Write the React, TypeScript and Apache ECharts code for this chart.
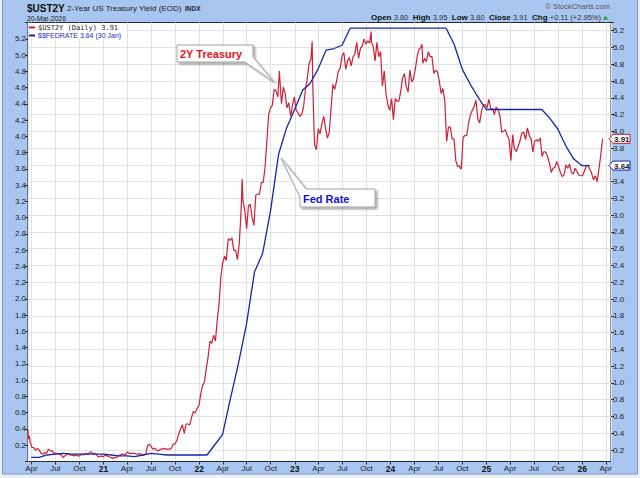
import React, { useEffect, useRef } from "react";
import * as echarts from "echarts";

// ---------- data ----------
const X_MIN = "2020-03-19";
const X_MAX = "2026-04-21";
const MONTH_LABELS = ["Jan", "Feb", "Mar", "Apr", "May", "Jun", "Jul", "Aug", "Sep", "Oct", "Nov", "Dec"];

const LEFT_MIN = 0;
const LEFT_MAX = 5.4;
const RIGHT_MIN = 0.2;
const RIGHT_MAX = 5.3;
const TICK_STEP = 0.2;

const UST2Y: [string, number][] = [
  ["2020-03-19", 0.44], ["2020-03-20", 0.33], ["2020-03-24", 0.37], ["2020-03-27", 0.30], ["2020-04-03", 0.23], ["2020-04-09", 0.23], ["2020-04-17", 0.20], ["2020-04-24", 0.22],
  ["2020-05-01", 0.20], ["2020-05-08", 0.16], ["2020-05-15", 0.15], ["2020-05-22", 0.17], ["2020-05-29", 0.16], ["2020-06-05", 0.21], ["2020-06-12", 0.19], ["2020-06-19", 0.19],
  ["2020-06-26", 0.16], ["2020-07-02", 0.16], ["2020-07-10", 0.16], ["2020-07-17", 0.15], ["2020-07-24", 0.14], ["2020-07-31", 0.11], ["2020-08-07", 0.13], ["2020-08-14", 0.15],
  ["2020-08-21", 0.15], ["2020-08-28", 0.14], ["2020-09-04", 0.14], ["2020-09-11", 0.13], ["2020-09-18", 0.14], ["2020-09-25", 0.13], ["2020-10-02", 0.13], ["2020-10-09", 0.15],
  ["2020-10-16", 0.14], ["2020-10-23", 0.16], ["2020-10-30", 0.15], ["2020-11-06", 0.16], ["2020-11-13", 0.18], ["2020-11-20", 0.16], ["2020-11-27", 0.16], ["2020-12-04", 0.15],
  ["2020-12-11", 0.12], ["2020-12-18", 0.12], ["2020-12-24", 0.13], ["2020-12-31", 0.12],
  ["2021-01-08", 0.14], ["2021-01-15", 0.13], ["2021-01-22", 0.12], ["2021-01-29", 0.11], ["2021-02-05", 0.10], ["2021-02-12", 0.11], ["2021-02-19", 0.11], ["2021-02-26", 0.13],
  ["2021-03-05", 0.14], ["2021-03-12", 0.15], ["2021-03-19", 0.15], ["2021-03-26", 0.14], ["2021-04-02", 0.18], ["2021-04-09", 0.16], ["2021-04-16", 0.16], ["2021-04-23", 0.16],
  ["2021-04-30", 0.16], ["2021-05-07", 0.15], ["2021-05-14", 0.15], ["2021-05-21", 0.16], ["2021-05-28", 0.14], ["2021-06-04", 0.14], ["2021-06-11", 0.15], ["2021-06-18", 0.25],
  ["2021-06-25", 0.27], ["2021-07-02", 0.24], ["2021-07-09", 0.21], ["2021-07-16", 0.22], ["2021-07-23", 0.20], ["2021-07-30", 0.19], ["2021-08-06", 0.21], ["2021-08-13", 0.21],
  ["2021-08-20", 0.22], ["2021-08-27", 0.21], ["2021-09-03", 0.21], ["2021-09-10", 0.21], ["2021-09-17", 0.22], ["2021-09-24", 0.27], ["2021-10-01", 0.27], ["2021-10-08", 0.32],
  ["2021-10-15", 0.39], ["2021-10-22", 0.45], ["2021-10-29", 0.50], ["2021-11-05", 0.40], ["2021-11-12", 0.51], ["2021-11-19", 0.51], ["2021-11-26", 0.50], ["2021-12-03", 0.59],
  ["2021-12-10", 0.66], ["2021-12-17", 0.64], ["2021-12-23", 0.69], ["2021-12-31", 0.73],
  ["2022-01-07", 0.87], ["2022-01-14", 0.97], ["2022-01-21", 1.01], ["2022-01-28", 1.17], ["2022-02-04", 1.31], ["2022-02-11", 1.50], ["2022-02-18", 1.47], ["2022-02-25", 1.57],
  ["2022-03-04", 1.50], ["2022-03-11", 1.75], ["2022-03-18", 1.95], ["2022-03-25", 2.27], ["2022-04-01", 2.44], ["2022-04-08", 2.51], ["2022-04-14", 2.46], ["2022-04-22", 2.72],
  ["2022-04-29", 2.70], ["2022-05-06", 2.73], ["2022-05-13", 2.58], ["2022-05-20", 2.58], ["2022-05-27", 2.47], ["2022-06-03", 2.66], ["2022-06-10", 3.06], ["2022-06-14", 3.43],
  ["2022-06-17", 3.17], ["2022-06-24", 3.06], ["2022-07-01", 2.84], ["2022-07-08", 3.11], ["2022-07-15", 3.13], ["2022-07-22", 2.97], ["2022-07-29", 2.88], ["2022-08-05", 3.24],
  ["2022-08-12", 3.25], ["2022-08-19", 3.25], ["2022-08-26", 3.39], ["2022-09-02", 3.39], ["2022-09-09", 3.56], ["2022-09-16", 3.87], ["2022-09-23", 4.20], ["2022-09-30", 4.28],
  ["2022-10-07", 4.31], ["2022-10-14", 4.50], ["2022-10-21", 4.48], ["2022-10-28", 4.41], ["2022-11-03", 4.72], ["2022-11-04", 4.66], ["2022-11-11", 4.33], ["2022-11-18", 4.53],
  ["2022-11-25", 4.45], ["2022-12-02", 4.28], ["2022-12-09", 4.34], ["2022-12-16", 4.18], ["2022-12-23", 4.31], ["2022-12-30", 4.41],
  ["2023-01-06", 4.25], ["2023-01-13", 4.22], ["2023-01-20", 4.18], ["2023-01-27", 4.20], ["2023-02-03", 4.29], ["2023-02-10", 4.49], ["2023-02-17", 4.62], ["2023-02-24", 4.81],
  ["2023-03-03", 4.86], ["2023-03-08", 5.07], ["2023-03-10", 4.59], ["2023-03-17", 3.84], ["2023-03-24", 3.78], ["2023-03-31", 4.03], ["2023-04-07", 3.97], ["2023-04-14", 4.09],
  ["2023-04-21", 4.18], ["2023-04-28", 4.04], ["2023-05-05", 3.92], ["2023-05-12", 3.98], ["2023-05-19", 4.27], ["2023-05-26", 4.56], ["2023-06-02", 4.50], ["2023-06-09", 4.60],
  ["2023-06-16", 4.72], ["2023-06-23", 4.75], ["2023-06-30", 4.90], ["2023-07-07", 4.94], ["2023-07-14", 4.74], ["2023-07-21", 4.84], ["2023-07-28", 4.88], ["2023-08-04", 4.78],
  ["2023-08-11", 4.89], ["2023-08-18", 4.92], ["2023-08-25", 5.06], ["2023-09-01", 4.87], ["2023-09-08", 4.99], ["2023-09-15", 5.02], ["2023-09-22", 5.10], ["2023-09-29", 5.04],
  ["2023-10-06", 5.08], ["2023-10-13", 5.05], ["2023-10-19", 5.19], ["2023-10-20", 5.07], ["2023-10-27", 5.01], ["2023-11-03", 4.84], ["2023-11-10", 5.06], ["2023-11-17", 4.89],
  ["2023-11-24", 4.95], ["2023-12-01", 4.54], ["2023-12-08", 4.72], ["2023-12-15", 4.44], ["2023-12-22", 4.31], ["2023-12-29", 4.25],
  ["2024-01-05", 4.39], ["2024-01-12", 4.14], ["2024-01-19", 4.39], ["2024-01-26", 4.36], ["2024-02-02", 4.36], ["2024-02-09", 4.48], ["2024-02-16", 4.64], ["2024-02-23", 4.69],
  ["2024-03-01", 4.53], ["2024-03-08", 4.47], ["2024-03-15", 4.73], ["2024-03-22", 4.59], ["2024-03-28", 4.62], ["2024-04-05", 4.75], ["2024-04-12", 4.90], ["2024-04-19", 4.98],
  ["2024-04-26", 5.00], ["2024-04-30", 5.04], ["2024-05-03", 4.81], ["2024-05-10", 4.87], ["2024-05-17", 4.83], ["2024-05-24", 4.95], ["2024-05-31", 4.89], ["2024-06-07", 4.89],
  ["2024-06-14", 4.69], ["2024-06-21", 4.73], ["2024-06-28", 4.71], ["2024-07-05", 4.60], ["2024-07-12", 4.45], ["2024-07-19", 4.51], ["2024-07-26", 4.36], ["2024-08-02", 3.88],
  ["2024-08-09", 4.05], ["2024-08-16", 4.05], ["2024-08-23", 3.91], ["2024-08-30", 3.91], ["2024-09-06", 3.65], ["2024-09-13", 3.58], ["2024-09-20", 3.59], ["2024-09-24", 3.55],
  ["2024-09-27", 3.56], ["2024-10-04", 3.93], ["2024-10-11", 3.95], ["2024-10-18", 3.95], ["2024-10-25", 4.11], ["2024-11-01", 4.20], ["2024-11-08", 4.25], ["2024-11-15", 4.30],
  ["2024-11-22", 4.37], ["2024-11-29", 4.15], ["2024-12-06", 4.10], ["2024-12-13", 4.24], ["2024-12-20", 4.31], ["2024-12-27", 4.32],
  ["2025-01-03", 4.28], ["2025-01-10", 4.38], ["2025-01-17", 4.27], ["2025-01-24", 4.27], ["2025-01-31", 4.20], ["2025-02-07", 4.29], ["2025-02-14", 4.26], ["2025-02-21", 4.19],
  ["2025-02-28", 3.99], ["2025-03-07", 4.00], ["2025-03-14", 4.02], ["2025-03-21", 3.95], ["2025-03-28", 3.91], ["2025-04-04", 3.65], ["2025-04-11", 3.96], ["2025-04-17", 3.80],
  ["2025-04-25", 3.76], ["2025-05-02", 3.82], ["2025-05-09", 3.89], ["2025-05-16", 3.98], ["2025-05-23", 3.99], ["2025-05-30", 3.90], ["2025-06-06", 4.04], ["2025-06-13", 3.95],
  ["2025-06-20", 3.91], ["2025-06-27", 3.75], ["2025-07-03", 3.88], ["2025-07-11", 3.90], ["2025-07-18", 3.88], ["2025-07-25", 3.92], ["2025-08-01", 3.70], ["2025-08-08", 3.76],
  ["2025-08-15", 3.75], ["2025-08-22", 3.70], ["2025-08-29", 3.62], ["2025-09-05", 3.51], ["2025-09-12", 3.56], ["2025-09-19", 3.57], ["2025-09-26", 3.64], ["2025-10-03", 3.58],
  ["2025-10-10", 3.51], ["2025-10-17", 3.46], ["2025-10-24", 3.48], ["2025-10-31", 3.60], ["2025-11-07", 3.56], ["2025-11-14", 3.61], ["2025-11-21", 3.51], ["2025-11-28", 3.49],
  ["2025-12-05", 3.56], ["2025-12-12", 3.52], ["2025-12-19", 3.48], ["2025-12-26", 3.47],
  ["2026-01-02", 3.47], ["2026-01-09", 3.52], ["2026-01-16", 3.58], ["2026-01-23", 3.60], ["2026-01-30", 3.55], ["2026-02-06", 3.50], ["2026-02-13", 3.42], ["2026-02-20", 3.47],
  ["2026-02-27", 3.40], ["2026-03-06", 3.55], ["2026-03-13", 3.72], ["2026-03-20", 3.91],
];

const FEDRATE: [string, number][] = [
  ["2020-03-31", 0.05], ["2020-04-30", 0.05], ["2020-05-31", 0.08], ["2020-06-30", 0.09], ["2020-07-31", 0.10], ["2020-08-31", 0.09], ["2020-09-30", 0.09], ["2020-10-31", 0.09],
  ["2020-11-30", 0.09], ["2020-12-31", 0.09], ["2021-01-31", 0.08], ["2021-02-28", 0.07], ["2021-03-31", 0.07], ["2021-04-30", 0.06], ["2021-05-31", 0.08], ["2021-06-30", 0.10],
  ["2021-07-31", 0.09], ["2021-08-31", 0.08], ["2021-09-30", 0.08], ["2021-10-31", 0.08], ["2021-11-30", 0.08], ["2021-12-31", 0.08], ["2022-01-31", 0.08], ["2022-02-28", 0.20],
  ["2022-03-31", 0.33], ["2022-04-30", 0.77], ["2022-05-31", 1.21], ["2022-06-30", 1.68], ["2022-07-31", 2.33], ["2022-08-31", 2.56], ["2022-09-30", 3.08], ["2022-10-31", 3.78],
  ["2022-11-30", 4.10], ["2022-12-31", 4.33], ["2023-01-31", 4.57], ["2023-02-28", 4.65], ["2023-03-31", 4.83], ["2023-04-30", 5.06], ["2023-05-31", 5.08], ["2023-06-30", 5.12],
  ["2023-07-31", 5.33], ["2023-08-31", 5.33], ["2023-09-30", 5.33], ["2023-10-31", 5.33], ["2023-11-30", 5.33], ["2023-12-31", 5.33], ["2024-01-31", 5.33], ["2024-02-29", 5.33],
  ["2024-03-31", 5.33], ["2024-04-30", 5.33], ["2024-05-31", 5.33], ["2024-06-30", 5.33], ["2024-07-31", 5.33], ["2024-08-31", 5.13], ["2024-09-30", 4.83], ["2024-10-31", 4.64],
  ["2024-11-30", 4.48], ["2024-12-31", 4.33], ["2025-01-31", 4.33], ["2025-02-28", 4.33], ["2025-03-31", 4.33], ["2025-04-30", 4.33], ["2025-05-31", 4.33], ["2025-06-30", 4.33],
  ["2025-07-31", 4.33], ["2025-08-31", 4.22], ["2025-09-30", 4.09], ["2025-10-31", 3.88], ["2025-11-30", 3.72], ["2025-12-31", 3.64], ["2026-01-30", 3.64],
];

const TITLE_SYMBOL = "$UST2Y";
const TITLE_NAME = "2-Year US Treasury Yield (EOD)";
const TITLE_EXCH = "INDX";
const TITLE_DATE = "20-Mar-2026";
const COPYRIGHT = "© StockCharts.com";
const OHLC_ITEMS: [string, string][] = [
  ["Open", "3.80"], ["High", "3.95"], ["Low", "3.80"], ["Close", "3.91"], ["Chg", "+0.11 (+2.95%)"],
];
const LEGEND_UST = "$UST2Y (Daily) 3.91";
const LEGEND_FED = "$$FEDRATE 3.64 (30 Jan)";
const NOTE_UST = "2Y Treasury";
const NOTE_FED = "Fed Rate";

// ---------- styles ----------
const FONT = '"Liberation Sans", Arial, Helvetica, sans-serif';
const RED = "#cf1f36";
const BLUE = "#1428a6";
const FRAME = "#a9c6f0";
const GRID_LINE = "#e2e2e2";
const AXIS_DARK = "#2a2a2a";
const QUARTER = 95 * 24 * 3600 * 1000;

export default function App() {
  const ref = useRef<HTMLDivElement>(null);

  useEffect(() => {
    if (!ref.current) return;
    const chart = echarts.init(ref.current, undefined, { renderer: "svg" });

    const lastU = UST2Y[UST2Y.length - 1][1];
    const lastF = FEDRATE[FEDRATE.length - 1][1];

    const xFmt = (value: number) => {
      const d = new Date(value);
      if (d.getDate() !== 1) return "";
      const m = d.getMonth();
      if (m === 0) return "{y|" + String(d.getFullYear()).slice(2) + "}";
      return MONTH_LABELS[m];
    };
    const yFmtLeft = (v: number) => (v < 0.1 || v > 5.25 ? "" : v.toFixed(1));
    // right-axis labels hidden where the value tags sit on top of them
    const yFmtRight = (v: number) => {
      if (v < 0.1 || v > 5.25) return "";
      if (Math.abs(v - lastF) < 0.08) return "";
      return v.toFixed(1);
    };

    const option: any = {
      animation: false,
      backgroundColor: FRAME,
      textStyle: { fontFamily: FONT },
      grid: [
        { left: 28, top: 22.5, width: 583, height: 439, show: true, backgroundColor: "#ffffff", borderColor: AXIS_DARK, borderWidth: 1 },
        { left: 28, top: 22.3, width: 583, height: 427.7, show: false },
      ],
      xAxis: [
        {
          type: "time", gridIndex: 0, min: X_MIN, max: X_MAX, minInterval: QUARTER, maxInterval: QUARTER,
          axisLine: { show: false },
          axisTick: { show: true, length: 3, lineStyle: { color: AXIS_DARK } },
          axisLabel: {
            margin: 3, fontSize: 8, color: "#222", fontFamily: FONT, formatter: xFmt,
            showMinLabel: false, showMaxLabel: false, hideOverlap: false,
            rich: { y: { fontWeight: "bold", fontSize: 8.5, color: "#111", fontFamily: FONT } },
          },
          splitLine: { show: true, lineStyle: { color: GRID_LINE, width: 1 } },
        },
        { type: "time", gridIndex: 1, min: X_MIN, max: X_MAX, show: false },
      ],
      yAxis: [
        {
          type: "value", gridIndex: 0, position: "left", min: LEFT_MIN, max: LEFT_MAX, interval: TICK_STEP,
          axisLine: { show: false },
          axisTick: { show: true, length: 3, lineStyle: { color: AXIS_DARK } },
          axisLabel: { margin: 2, fontSize: 8, color: "#222", fontFamily: FONT, formatter: yFmtLeft },
          splitLine: { show: false },
        },
        {
          type: "value", gridIndex: 1, position: "right", min: RIGHT_MIN, max: RIGHT_MAX, interval: TICK_STEP,
          axisLine: { show: false },
          axisTick: { show: true, length: 3, lineStyle: { color: AXIS_DARK } },
          axisLabel: { margin: 2, fontSize: 8, color: "#222", fontFamily: FONT, formatter: yFmtRight },
          splitLine: { show: true, showMaxLine: false, lineStyle: { color: GRID_LINE, width: 1 } },
        },
      ],
      series: [
        {
          name: "UST2Y", type: "line", xAxisIndex: 1, yAxisIndex: 1, data: UST2Y,
          symbol: "none", clip: false, z: 3, lineStyle: { color: RED, width: 1.2 },
        },
        {
          name: "FEDRATE", type: "line", xAxisIndex: 0, yAxisIndex: 0, data: FEDRATE,
          symbol: "none", clip: false, z: 4, lineStyle: { color: BLUE, width: 1.3 },
        },
      ],
    };
    chart.setOption(option);

    const yU = chart.convertToPixel({ yAxisIndex: 1 } as any, lastU) as number;
    const yF = chart.convertToPixel({ yAxisIndex: 0 } as any, lastF) as number;

    const tag = (yc: number, val: number, color: string) => ({
      type: "group", z: 100, children: [
        { type: "polygon", z: 100, shape: { points: [[609, yc], [613, yc - 4.5], [630, yc - 4.5], [630, yc + 4.5], [613, yc + 4.5]] }, style: { fill: "#fff", stroke: color, lineWidth: 1 } },
        { type: "text", z: 101, x: 614, y: yc + 0.5, style: { text: val.toFixed(2), font: "bold 8px " + FONT, fill: "#111", verticalAlign: "middle" } },
      ],
    });

    const ohlcRich = OHLC_ITEMS.map(([k, v]) => "{b|" + k + "} {v|" + v + "}").join("  ");
    const balloonStyle = { fill: "#ffffff", stroke: "#a0a0a0", lineWidth: 1, shadowColor: "rgba(0,0,0,0.35)", shadowBlur: 2, shadowOffsetX: 2, shadowOffsetY: 2 };

    const graphic: any[] = [
      // outer frame
      { type: "rect", z: 1, shape: { x: 0, y: 474, width: 640, height: 4 }, style: { fill: "#efefef" } },
      { type: "rect", z: 1, shape: { x: 0, y: 0, width: 2, height: 478 }, style: { fill: "#efefef" } },
      { type: "rect", z: 1, shape: { x: 637.5, y: 0, width: 3, height: 478 }, style: { fill: "#efefef" } },
      { type: "rect", z: 1, shape: { x: 2.5, y: -1, width: 635, height: 475 }, style: { fill: "none", stroke: "#7a98d0", lineWidth: 1 } },
      // header
      { type: "text", x: 27, y: 8, style: { text: TITLE_SYMBOL, font: "bold 10px " + FONT, fill: "#111", verticalAlign: "middle" } },
      { type: "text", x: 67, y: 8.5, style: { text: TITLE_NAME, font: "8px " + FONT, fill: "#222", verticalAlign: "middle" } },
      { type: "text", x: 185, y: 8.8, style: { text: TITLE_EXCH, font: "bold 6.5px " + FONT, fill: "#222", verticalAlign: "middle" } },
      { type: "text", x: 27, y: 18, style: { text: TITLE_DATE, font: "6.8px " + FONT, fill: "#222", verticalAlign: "middle" } },
      { type: "text", x: 610, y: 6.5, style: { text: COPYRIGHT, font: "7.5px " + FONT, fill: "#555", align: "right", verticalAlign: "middle" } },
      {
        type: "text", x: 601, y: 17.5,
        style: {
          text: ohlcRich, align: "right", verticalAlign: "middle", font: "8px " + FONT,
          rich: { b: { font: "bold 8px " + FONT, fill: "#111" }, v: { font: "7.5px " + FONT, fill: "#333" } },
        },
      },
      { type: "polygon", shape: { points: [[603, 19.5], [608, 19.5], [605.5, 15.5]] }, style: { fill: "#1f9a2a" } },
      // legend
      { type: "rect", z: 50, shape: { x: 29, y: 23.5, width: 96, height: 15 }, style: { fill: "#ffffff" } },
      { type: "line", z: 51, shape: { x1: 29, y1: 27.5, x2: 35, y2: 27.5 }, style: { stroke: RED, lineWidth: 2 } },
      { type: "text", z: 51, x: 38, y: 27.8, style: { text: LEGEND_UST, font: '7px "DejaVu Sans Mono", monospace', fill: "#222", verticalAlign: "middle" } },
      { type: "line", z: 51, shape: { x1: 29, y1: 35.5, x2: 35, y2: 35.5 }, style: { stroke: BLUE, lineWidth: 2 } },
      { type: "text", z: 51, x: 38, y: 35.8, style: { text: LEGEND_FED, font: "7px " + FONT, fill: "#1a2cb0", verticalAlign: "middle" } },
      // callouts
      {
        type: "group", z: 60, children: [
          { type: "polygon", z: 60, shape: { points: [[177, 45], [253, 45], [253, 57], [274, 82], [245, 62], [177, 62]] }, style: balloonStyle },
          { type: "text", z: 61, x: 180, y: 53.8, style: { text: NOTE_UST, font: "bold 11px " + FONT, fill: "#e8141c", verticalAlign: "middle" } },
        ],
      },
      {
        type: "group", z: 60, children: [
          { type: "polygon", z: 60, shape: { points: [[306, 189], [375, 189], [375, 207], [300, 207], [300, 197], [281, 158]] }, style: balloonStyle },
          { type: "text", z: 61, x: 303, y: 198.5, style: { text: NOTE_FED, font: "bold 11px " + FONT, fill: "#1212e0", verticalAlign: "middle" } },
        ],
      },
      tag(yU, lastU, RED),
      tag(yF, lastF, BLUE),
    ];
    chart.setOption({ graphic });

    return () => chart.dispose();
  }, []);

  return <div ref={ref} style={{ position: "absolute", left: 0, top: 0, width: 640, height: 478 }} />;
}
